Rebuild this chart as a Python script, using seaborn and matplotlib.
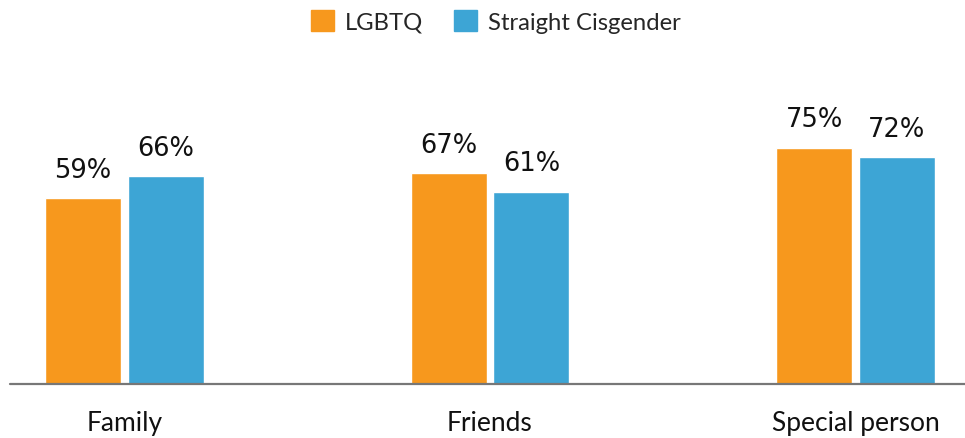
import matplotlib
matplotlib.use("Agg")
import matplotlib.pyplot as plt
import matplotlib.patches as mpatches
import seaborn as sns
import pandas as pd

# data
categories = ["Family", "Friends", "Special person"]
groups = ["LGBTQ", "Straight Cisgender"]
lgbtq = [59, 67, 75]
straight = [66, 61, 72]
colors = ["#F7981D", "#3DA5D5"]

df = pd.DataFrame({
    "category": categories * 2,
    "group": [groups[0]] * 3 + [groups[1]] * 3,
    "value": lgbtq + straight,
})

sns.set_style("white")
plt.rcParams["font.family"] = ["Lato", "DejaVu Sans"]

fig = plt.figure(figsize=(9.65, 4.39), dpi=100)
ax = fig.add_axes([0.0, 0.124, 1.0, 0.74])

sns.barplot(data=df, x="category", y="value", hue="group", order=categories,
            hue_order=groups, palette=colors, width=0.454, gap=0.084,
            saturation=1, legend=False, ax=ax)

ax.set_xlim(-0.3406, 2.2996)
ax.set_ylim(0, 103.3)
# baseline starts a little in from the left edge like the original
ax.axhline(0, xmin=10 / 965, xmax=1.0, color="#777777", lw=1.6, clip_on=False)
ax.spines[:].set_visible(False)
ax.set_yticks([])
ax.set_xlabel("")
ax.set_ylabel("")
ax.tick_params(axis="x", length=0, pad=19, labelsize=19, labelcolor="#111111")

for cont in ax.containers:
    for bar in cont:
        h = bar.get_height()
        ax.annotate(f"{h:.0f}%", (bar.get_x() + bar.get_width() / 2, h),
                    xytext=(0, 11), textcoords="offset points",
                    ha="center", va="bottom", fontsize=18.5,
                    family="DejaVu Sans", color="#111111")

handles = [mpatches.Patch(color=c, label=g) for c, g in zip(colors, groups)]
fig.legend(handles=handles, loc="center", bbox_to_anchor=(0.514, 0.949), ncol=2,
           frameon=False, fontsize=17.2, handlelength=0.96, handleheight=0.96,
           handletextpad=0.45, columnspacing=1.3)

fig.savefig("out.png", dpi=100)
